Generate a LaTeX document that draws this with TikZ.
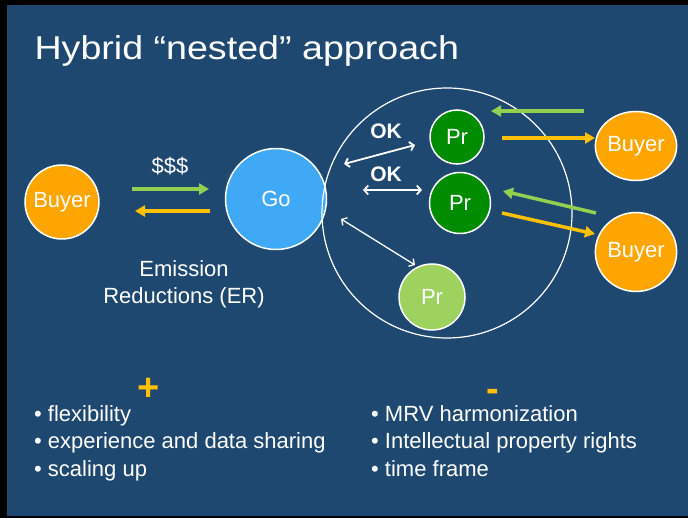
\documentclass[tikz,border=0pt]{standalone}
\usepackage{fontspec}
\setmainfont{Liberation Sans}
\usepackage{xcolor}
\usepackage{tikz}
\usetikzlibrary{positioning,shapes,arrows.meta}

\definecolor{slideblue}{HTML}{1F4870}
\definecolor{buyerorange}{HTML}{FFA500}
\definecolor{goblue}{HTML}{3FA9F5}
\definecolor{prgreen}{HTML}{008C00}
\definecolor{prlight}{HTML}{9ED25F}
\definecolor{paygreen}{HTML}{92D050}
\definecolor{eryellow}{HTML}{FFC000}

\begin{document}
\begin{tikzpicture}[x = 1pt, y = -1pt,
  every node/.style = {text = white, font = \fontsize{22}{24}\selectfont},
  party/.style = {circle, draw = white, line width = 1.5pt, inner sep = 0pt},
  buyer/.style = {ellipse, draw = white, line width = 1.5pt, inner sep = 0pt,
    fill = buyerorange, minimum width = 81pt},
  pay/.style = {line width = 3.5pt, paygreen, -{Triangle[length = 10pt, width = 11pt]}},
  deliver/.style = {line width = 3.5pt, eryellow, -{Triangle[length = 10pt, width = 11pt]}},
  okarrow/.style = {line width = 1.8pt, white,
    {Straight Barb[length = 4pt, width = 9pt]}-{Straight Barb[length = 4pt, width = 9pt]}},
  sign/.style = {anchor = base, inner sep = 0pt, text = eryellow,
    font = \fontsize{38}{40}\selectfont\bfseries},
  item/.style = {anchor = base west, inner sep = 1pt}]

  % slide
  \fill[black] (0, 0) rectangle (688, 518);
  \fill[slideblue] (7, 5) rectangle (688, 516);

  \node[anchor = base west, font = \fontsize{33}{36}\selectfont] (title) at (31, 60) {
    \scalebox{1.14}[1]{Hybrid “nested” approach}
  };

  % national level
  \node[party, fill = buyerorange, minimum size = 74pt] (B1) at (62, 202) {
    Buyer
  };

  \node[party, fill = goblue, minimum size = 101pt] (Go) at (276, 199) {
    Go
  };

  \node (money) at (170, 166) {
    \$\$\$
  };

  \node[align = center, font = \fontsize{22}{27}\selectfont] (er) at (184, 284) {
    Emission\\Reductions (ER)
  };

  % nested projects
  \node[circle, draw = white, line width = 1.2pt, minimum size = 250pt] (ring) at (447, 213) {};

  \node[party, fill = prgreen, minimum size = 54pt] (P1) at (457, 137) {
    Pr
  };

  \node[party, fill = prgreen, minimum size = 61pt] (P2) at (460, 203) {
    Pr
  };

  \node[party, fill = prlight, minimum size = 66pt] (P3) at (432, 297) {
    Pr
  };

  \node[buyer, minimum height = 69pt] (B2) at (636, 146) {
    Buyer
  };

  \node[buyer, minimum height = 79pt] (B3) at (636, 252) {
    Buyer
  };

  \node[font = \fontsize{21}{24}\selectfont\bfseries] (ok1) at (386, 131) {
    OK
  };

  \node[font = \fontsize{21}{24}\selectfont\bfseries] (ok2) at (386, 174) {
    OK
  };

  % arrow ends
  \coordinate (m1) at (132, 189);
  \coordinate (m2) at (209, 189);
  \coordinate (e1) at (210, 211);
  \coordinate (e2) at (135, 211);
  \coordinate (m3) at (584, 111);
  \coordinate (m4) at (491, 111);
  \coordinate (e3) at (502, 138);
  \coordinate (e4) at (595, 138);
  \coordinate (m5) at (596, 213);
  \coordinate (m6) at (503, 191);
  \coordinate (e5) at (502, 213);
  \coordinate (e6) at (595, 234);
  \coordinate (k1) at (344, 164);
  \coordinate (k2) at (415, 145);
  \coordinate (k3) at (363, 190);
  \coordinate (k4) at (422, 190);
  \coordinate (k5) at (341, 219);
  \coordinate (k6) at (415, 265);

  \draw[pay] (m1) -- (m2);
  \draw[deliver] (e1) -- (e2);
  \draw[pay] (m3) -- (m4);
  \draw[deliver] (e3) -- (e4);
  \draw[pay] (m5) -- (m6);
  \draw[deliver] (e5) -- (e6);
  \draw[okarrow] (k1) -- (k2);
  \draw[okarrow] (k3) -- (k4);
  \draw[okarrow, line width = 1.3pt] (k5) -- (k6);

  % pros and cons
  \node[sign] (plus) at (148.5, 401) {
    +
  };

  \node[sign] (minus) at (492.5, 402) {
    -
  };

  \node[item] (L1) at (33, 421) {• flexibility};
  \node[item] (L2) at (33, 448) {• experience and data sharing};
  \node[item] (L3) at (33, 476) {• scaling up};
  \node[item] (R1) at (370, 421) {• MRV harmonization};
  \node[item] (R2) at (370, 448) {• Intellectual property rights};
  \node[item] (R3) at (370, 476) {• time frame};
\end{tikzpicture}
\end{document}
